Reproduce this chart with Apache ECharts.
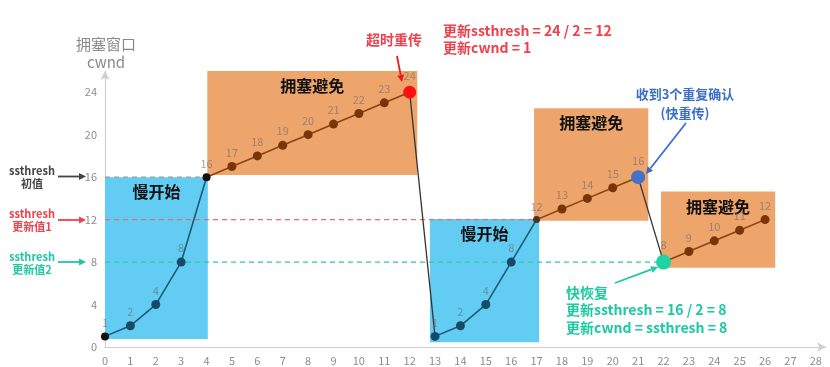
<!DOCTYPE html>
<html><head><meta charset="utf-8">
<script src="https://cdn.jsdelivr.net/npm/echarts@6/dist/echarts.min.js"></script>
<style>html,body{margin:0;padding:0;background:#fff}#c{width:830px;height:367px}</style>
</head><body><div id="c"></div>
<script>
// ---- data ----
const ss1Rounds = [0, 1, 2, 3, 4];
const ss1Cwnd   = [1, 2, 4, 8, 16];
const ca1Rounds = [4, 5, 6, 7, 8, 9, 10, 11, 12];
const ca1Cwnd   = [16, 17, 18, 19, 20, 21, 22, 23, 24];
const drop1Rounds = [12, 13];
const drop1Cwnd   = [24, 1];
const ss2Rounds = [13, 14, 15, 16, 17];
const ss2Cwnd   = [1, 2, 4, 8, 12];
const ca2Rounds = [17, 18, 19, 20, 21];
const ca2Cwnd   = [12, 13, 14, 15, 16];
const drop2Rounds = [21, 22];
const drop2Cwnd   = [16, 8];
const ca3Rounds = [22, 23, 24, 25, 26];
const ca3Cwnd   = [8, 9, 10, 11, 12];
const ssthreshValues = [16, 12, 8];
const ssthreshUntilRound = [4, 17, 22];
const phaseLabels = ['慢开始', '拥塞避免', '慢开始', '拥塞避免', '拥塞避免'];
const yTickStep = 4;

// ---- styles ----
const FONT = "'Noto Sans CJK SC','Noto Sans',sans-serif";
const BLUE_BOX = '#63ccf2', ORANGE_BOX = '#eea56c';
const SS_LINE = '#1d5a78', SS_DOT = '#174a66';
const CA_LINE = '#8a4414', CA_DOT = '#7a3506';
const RED = '#f0404c', TEAL = '#1cc9a0', NAVY = '#3b6fc6';
const labelStyle = {show: true, position: 'top', distance: 4, color: 'rgba(105,105,105,0.6)', fontSize: 11, fontFamily: FONT};

const special = {
  '0,1':   {color: '#111', size: 8},
  '4,16':  {color: '#111', size: 8},
  '12,24': {color: '#ff1010', size: 13},
  '17,12': {color: '#4a3422', size: 7},
  '21,16': {color: '#4472c4', size: 14},
  '22,8':  {color: '#20d3a6', size: 15}
};
function build(rounds, cwnd, dot, skipFirst) {
  return rounds.map((r, i) => {
    const item = {value: [r, cwnd[i]]};
    const sp = special[r + ',' + cwnd[i]];
    if (skipFirst && i === 0) {
      item.symbolSize = 0; item.label = {show: false};
    } else if (sp) {
      item.symbolSize = sp.size; item.itemStyle = {color: sp.color};
    }
    return item;
  });
}
function seg(rounds, cwnd, lineColor, dot, skipFirst) {
  return {
    type: 'line', z: 5, data: build(rounds, cwnd, dot, skipFirst),
    symbol: 'circle', symbolSize: 9, showAllSymbol: true,
    lineStyle: {color: lineColor, width: 1.6},
    itemStyle: {color: dot},
    label: labelStyle, silent: true, animation: false
  };
}
function drop(rounds, cwnd) {
  return {type: 'line', z: 4, data: rounds.map((r, i) => [r, cwnd[i]]), symbol: 'none',
    lineStyle: {color: '#333', width: 1.3}, silent: true, animation: false};
}
const threshColors = ['#999', '#f06a74', '#2ccaa5'];
const threshSeries = ssthreshValues.map((v, i) => ({
  type: 'line', z: 3, data: [[0, v], [ssthreshUntilRound[i], v]], symbol: 'none',
  lineStyle: {color: threshColors[i], width: 1.2, type: [5, 4]}, silent: true, animation: false
}));

const boxLabel = t => ({show: true, position: 'insideTop', distance: 7, formatter: t,
  color: '#111', fontSize: 16, fontWeight: 'bold', fontFamily: FONT});
const areaSeries = {
  type: 'line', z: 1, data: [], silent: true, animation: false,
  markArea: {silent: true, data: [
    [{xAxis: 0, yAxis: 16, itemStyle: {color: BLUE_BOX}, label: boxLabel(phaseLabels[0])}, {xAxis: 4.05, yAxis: 0.75}],
    [{xAxis: 4.03, yAxis: 26.5, itemStyle: {color: ORANGE_BOX}, label: boxLabel(phaseLabels[1])}, {xAxis: 12.3, yAxis: 16.2}],
    [{xAxis: 12.8, yAxis: 12.05, itemStyle: {color: BLUE_BOX}, label: boxLabel(phaseLabels[2])}, {xAxis: 17.1, yAxis: 0.45}],
    [{xAxis: 16.9, yAxis: 22.5, itemStyle: {color: ORANGE_BOX}, label: boxLabel(phaseLabels[3])}, {xAxis: 21.4, yAxis: 11.9}],
    [{xAxis: 21.9, yAxis: 14.65, itemStyle: {color: ORANGE_BOX}, label: boxLabel(phaseLabels[4])}, {xAxis: 26.4, yAxis: 7.47}]
  ]}
};

// ---- annotation helpers (pixel space) ----
function arrow(x1, y1, x2, y2, color) {
  const a = Math.atan2(y2 - y1, x2 - x1), L = 7, W = 3.5;
  const bx = x2 - L * Math.cos(a), by = y2 - L * Math.sin(a);
  return [
    {type: 'line', silent: true, shape: {x1, y1, x2: bx, y2: by}, style: {stroke: color, lineWidth: 1.8}, z: 20},
    {type: 'polygon', silent: true, shape: {points: [[x2, y2], [bx - W * Math.sin(a), by + W * Math.cos(a)], [bx + W * Math.sin(a), by - W * Math.cos(a)]]},
      style: {fill: color}, z: 20}
  ];
}
function txt(x, y, text, color, size, align, weight, lh) {
  return {type: 'text', silent: true, x, y, z: 20, style: {text, fill: color, font: (weight || 'bold') + ' ' + size + 'px ' + FONT,
    align: align || 'center', verticalAlign: 'middle', lineHeight: lh || size + 3,
    stroke: '#fff', lineWidth: 2}};
}

const graphics = [].concat(
  [txt(106, 53, '拥塞窗口\ncwnd', '#8a8a8a', 15, 'center', 'normal', 18)],
  [txt(32, 177, 'ssthresh\n初值', '#444', 11, 'center', 'bold', 13)], arrow(58, 176.5, 86, 176.5, '#444'),
  [txt(32, 220, 'ssthresh\n更新值1', RED, 11, 'center', 'bold', 13)], arrow(58, 220, 86, 220, RED),
  [txt(32, 263, 'ssthresh\n更新值2', TEAL, 11, 'center', 'bold', 13)], arrow(58, 262, 86, 262, TEAL),
  [txt(394, 40, '超时重传', RED, 14)], arrow(397, 56, 402, 82, '#e81c1c'),
  [txt(443, 39.5, '更新ssthresh = 24 / 2 = 12\n更新cwnd = 1', RED, 14, 'left', 'bold', 17)],
  [txt(685, 103.5, '收到3个重复确认\n(快重传)', NAVY, 13, 'center', 'bold', 19)], arrow(686, 123, 646, 174, NAVY),
  arrow(615, 283, 658, 267, TEAL),
  [txt(566, 310, '快恢复\n更新ssthresh = 16 / 2 = 8\n更新cwnd = ssthresh = 8', TEAL, 14, 'left', 'bold', 17.5)]
);

const chart = echarts.init(document.getElementById('c'), null, {renderer: 'canvas'});
chart.setOption({
  animation: false,
  backgroundColor: '#fff',
  grid: {left: 105, right: 4, top: 71, bottom: 20, containLabel: false},
  xAxis: {
    type: 'value', min: 0, max: 28.4, interval: 1,
    axisLine: {lineStyle: {color: '#cfcfcf', width: 1.2}, symbol: ['none', 'arrow'], symbolSize: [7, 9]},
    axisTick: {show: false}, splitLine: {show: false},
    axisLabel: {color: '#8c8c8c', fontSize: 11, margin: 8, fontFamily: FONT,
      formatter: v => Number.isInteger(v) ? String(v) : ''}
  },
  yAxis: {
    type: 'value', min: 0, max: 26, interval: yTickStep,
    axisLine: {show: true, lineStyle: {color: '#cfcfcf', width: 1.2}, symbol: ['none', 'arrow'], symbolSize: [7, 9]},
    axisTick: {show: false}, splitLine: {show: false},
    axisLabel: {color: '#8c8c8c', fontSize: 11, margin: 8, fontFamily: FONT,
      formatter: v => v % yTickStep === 0 ? String(v) : ''}
  },
  series: [areaSeries].concat(threshSeries, [
    seg(ss1Rounds, ss1Cwnd, SS_LINE, SS_DOT, false),
    seg(ca1Rounds, ca1Cwnd, CA_LINE, CA_DOT, true),
    drop(drop1Rounds, drop1Cwnd),
    seg(ss2Rounds, ss2Cwnd, SS_LINE, SS_DOT, false),
    seg(ca2Rounds, ca2Cwnd, CA_LINE, CA_DOT, true),
    drop(drop2Rounds, drop2Cwnd),
    seg(ca3Rounds, ca3Cwnd, CA_LINE, CA_DOT, false)
  ]),
  graphic: graphics
});
</script></body></html>
